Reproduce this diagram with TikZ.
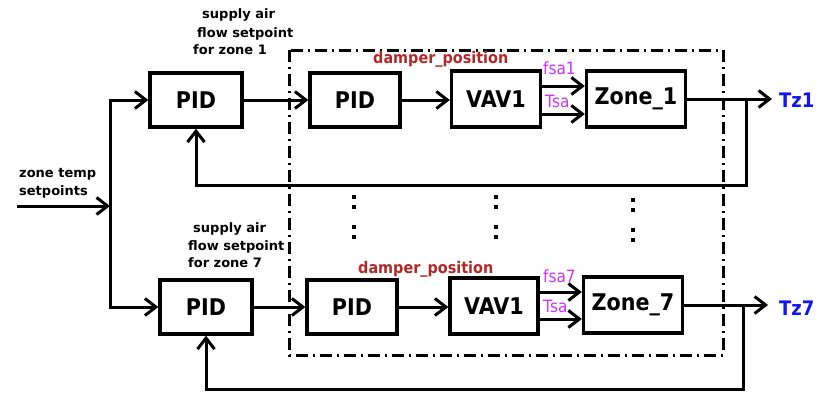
\documentclass[tikz,border=0pt]{standalone}
\usepackage{fontspec}
\setmainfont{DejaVu Sans}
\newfontfamily\cond[FakeStretch=0.9]{DejaVu Sans}
\usetikzlibrary{arrows.meta}
\definecolor{dampred}{RGB}{178,40,40}
\definecolor{sigmag}{RGB}{204,51,255}
\definecolor{tzblue}{RGB}{20,20,245}
\begin{document}
\begin{tikzpicture}[x=1pt,y=-1pt,
  blk/.style={draw, line width=3.3pt, inner sep=0pt, font=\cond\fontsize{23}{23}\selectfont\bfseries, minimum height=54pt},
  arr/.style={line width=3pt, -{Straight Barb[length=11pt,width=17pt]}},
  lbl/.style={anchor=base west, inner sep=0pt, font=\fontsize{13}{13}\selectfont\bfseries},
  damp/.style={anchor=base west, inner sep=0pt, text=dampred, font=\cond\fontsize{16}{16}\selectfont\bfseries},
  sig/.style={anchor=base west, inner sep=0pt, text=sigmag, font=\cond\fontsize{17}{17}\selectfont},
  tz/.style={anchor=base west, inner sep=0pt, text=tzblue, font=\cond\fontsize{20}{20}\selectfont\bfseries},
  dotsq/.style={fill=black}
]
\useasboundingbox (0,0) rectangle (818,392);
\fill[white] (0,0) rectangle (818,392);

% dash-dot frame
\draw[line width=3pt, dash pattern=on 12pt off 5pt on 2pt off 5pt] (289,50) rectangle (723,355);

% blocks
\node[blk, minimum width=92pt] (PIDa) at (196,100) {PID};
\node[blk, minimum width=92pt] (PIDb) at (206,307) {PID};
\node[blk, minimum width=90pt] (pida) at (355,100) {PID};
\node[blk, minimum width=89pt, minimum height=56pt] (VAVa) at (496,99) {VAV1};
\node[blk, minimum width=99pt, minimum height=56pt] (Zonea) at (636,99) {Zone\_1};
\node[blk, minimum width=90pt] (pidb) at (352,307) {PID};
\node[blk, minimum width=88pt, minimum height=56pt] (VAVb) at (494,306) {VAV1};
\node[blk, minimum width=99pt, minimum height=56pt] (Zoneb) at (633,305) {Zone\_7};

% coordinates
\coordinate (in) at (17,206);
\coordinate (j) at (110,206);
\coordinate (outa) at (772,99);
\coordinate (outb) at (768,305);
\coordinate (tapa) at (746,99);
\coordinate (fa) at (746,185);
\coordinate (tapb) at (743,305);
\coordinate (fb) at (743,389);

% input and distribution
\draw[arr] (in) -- (j);
\draw[arr] (j) |- (PIDa.west);
\draw[arr] (j) |- (PIDb.west);

% top chain
\draw[arr] (PIDa.east) -- (pida.west);
\draw[arr] (pida.east) -- (VAVa.west |- pida.east);
\draw[arr] (VAVa.east |- 0,86) -- (Zonea.west |- 0,86);
\draw[arr] (VAVa.east |- 0,114) -- (Zonea.west |- 0,114);
\draw[arr] (Zonea.east) -- (outa);
\draw[arr] (tapa) -- (fa) -| (PIDa.south);

% bottom chain
\draw[arr] (PIDb.east) -- (pidb.west);
\draw[arr] (pidb.east) -- (VAVb.west |- pidb.east);
\draw[arr] (VAVb.east |- 0,292) -- (Zoneb.west |- 0,292);
\draw[arr] (VAVb.east |- 0,319) -- (Zoneb.west |- 0,319);
\draw[arr] (Zoneb.east) -- (outb);
\draw[arr] (tapb) -- (fb) -| (PIDb.south);

% labels
\node[lbl] (la1) at (202,18) {supply air};
\node[lbl] (la2) at (197,37) {flow setpoint};
\node[lbl] (la3) at (193,54) {for zone 1};
\node[lbl] (lb1) at (193,232) {supply air};
\node[lbl] (lb2) at (188,250) {flow setpoint};
\node[lbl] (lb3) at (188,267) {for zone 7};
\node[lbl] (lz1) at (19,177) {zone temp};
\node[lbl] (lz2) at (19,195) {setpoints};

\node[damp] (da) at (373,63) {damper\_position};
\node[damp] (db) at (358,273) {damper\_position};

\node[sig] (fsa1) at (543,74) {fsa1};
\node[sig] (tsa1) at (545,107) {Tsa};
\node[sig] (fsa7) at (543,282) {fsa7};
\node[sig] (tsa7) at (543,312) {Tsa};

\node[tz] (tz1) at (779,107) {Tz1};
\node[tz] (tz7) at (779,315) {Tz7};

% vertical ellipsis dots
\foreach \cx/\cy in {354/197, 354/207, 354/227, 354/237, 496/197, 496/207, 496/227, 496/237, 633/200, 633/210, 633/230, 633/240}{
  \fill[dotsq] (\cx-1.9,\cy-1.9) rectangle (\cx+1.9,\cy+1.9);
}
\end{tikzpicture}
\end{document}
